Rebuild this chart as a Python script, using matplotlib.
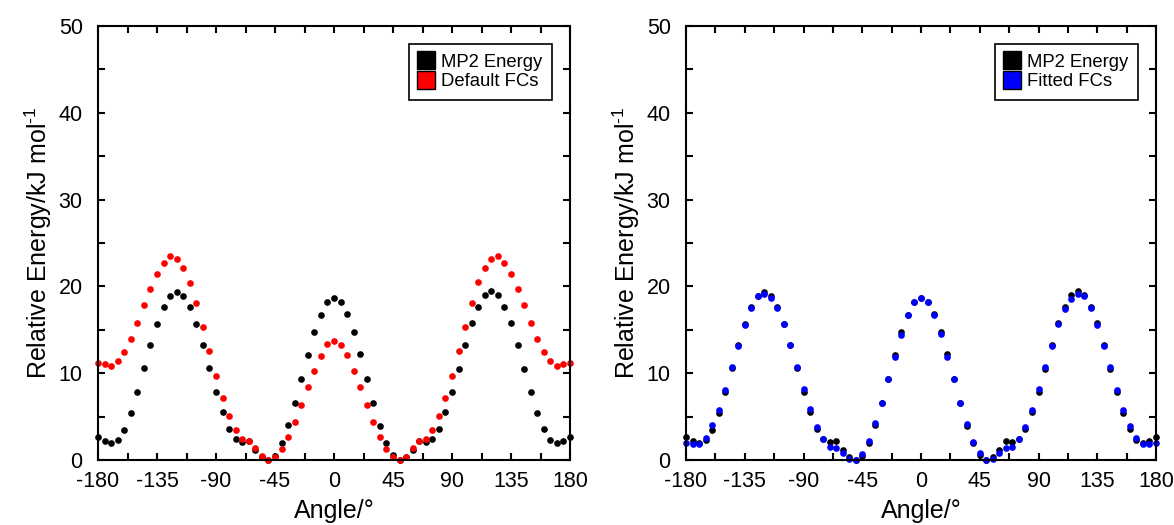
import matplotlib
matplotlib.use('Agg')
import matplotlib.pyplot as plt
from matplotlib.lines import Line2D
from matplotlib.ticker import MultipleLocator

plt.rcParams['font.family'] = ['Liberation Sans', 'DejaVu Sans']
plt.rcParams['mathtext.fontset'] = 'custom'
plt.rcParams['mathtext.rm'] = 'Liberation Sans'
plt.rcParams['mathtext.it'] = 'Liberation Sans:italic'
plt.rcParams['axes.unicode_minus'] = False

# dihedral scan, 5 degree steps
angle = list(range(-180, 185, 5))

mp2 = [2.69, 2.19, 1.92, 2.33, 3.50, 5.38, 7.86, 10.58, 13.25, 15.72, 17.67, 18.94, 19.40,
       18.94, 17.65, 15.72, 13.27, 10.56, 7.87, 5.48, 3.62, 2.42, 2.04, 2.19, 1.20, 0.30,
       0.00, 0.50, 1.95, 4.00, 6.56, 9.37, 12.10, 14.72, 16.72, 18.15, 18.72, 18.17, 16.78,
       14.73, 12.19, 9.38, 6.54, 3.96, 1.92, 0.58, 0.00, 0.30, 1.20, 2.19, 2.04, 2.42, 3.58,
       5.50, 7.85, 10.54, 13.27, 15.77, 17.65, 18.96, 19.42, 18.96, 17.65, 15.73, 13.27,
       10.54, 7.85, 5.40, 3.54, 2.31, 1.92, 2.19, 2.69]

default_fc = [11.15, 11.08, 10.88, 11.42, 12.50, 13.92, 15.77, 17.85, 19.65, 21.42, 22.69,
              23.46, 23.15, 22.08, 20.38, 18.12, 15.35, 12.54, 9.69, 7.19, 5.04, 3.42, 2.46,
              2.19, 1.38, 0.42, 0.00, 0.38, 1.23, 2.62, 4.42, 6.35, 8.38, 10.31, 12.00, 13.31,
              13.73, 13.27, 12.04, 10.31, 8.38, 6.35, 4.42, 2.62, 1.27, 0.38, 0.00, 0.38, 1.38,
              2.19, 2.46, 3.42, 5.08, 7.19, 9.69, 12.54, 15.35, 18.12, 20.46, 22.08, 23.15,
              23.46, 22.69, 21.42, 19.65, 17.85, 15.77, 13.92, 12.50, 11.42, 10.88, 11.08, 11.15]

fitted_fc = [1.92, 1.85, 1.85, 2.50, 4.00, 5.77, 8.08, 10.69, 13.15, 15.54, 17.46, 18.85,
             19.15, 18.65, 17.50, 15.69, 13.27, 10.77, 8.19, 5.85, 3.85, 2.42, 1.54, 1.35,
             0.85, 0.15, 0.00, 0.69, 2.23, 4.23, 6.62, 9.35, 11.92, 14.42, 16.73, 18.15, 18.69,
             18.15, 16.69, 14.50, 11.92, 9.35, 6.62, 4.15, 2.08, 0.77, 0.00, 0.15, 0.77, 1.35,
             1.54, 2.38, 3.85, 5.77, 8.15, 10.69, 13.19, 15.62, 17.42, 18.54, 19.08, 18.85,
             17.46, 15.54, 13.15, 10.69, 8.08, 5.77, 3.96, 2.50, 1.85, 1.85, 1.92]

fig = plt.figure(figsize=(11.74, 5.25), dpi=100)
ax1 = fig.add_axes([98 / 1174, 65 / 525, 472 / 1174, 434 / 525])
ax2 = fig.add_axes([686 / 1174, 65 / 525, 470 / 1174, 434 / 525])


def style(ax):
    ax.set_xlim(-180, 180)
    ax.set_ylim(0, 50)
    ax.set_xticks(range(-180, 181, 45))
    ax.xaxis.set_minor_locator(MultipleLocator(22.5))
    ax.yaxis.set_major_locator(MultipleLocator(10))
    ax.yaxis.set_minor_locator(MultipleLocator(5))
    ax.tick_params(which='both', direction='in', top=True, right=True,
                   length=5, width=1.5, labelsize=15.5)
    ax.tick_params(axis='y', pad=11)
    ax.tick_params(axis='x', pad=8)
    for s in ax.spines.values():
        s.set_linewidth(1.5)
    ax.set_xlabel('Angle/°', fontsize=18, labelpad=5)
    ax.set_ylabel(r'Relative Energy/kJ mol$^{\text{-1}}$', fontsize=18, labelpad=3)


def add_legend(ax, label, color):
    handles = [Line2D([], [], marker='s', ls='none', mfc='black', mec='black', ms=12.5),
               Line2D([], [], marker='s', ls='none', mfc=color, mec='black', ms=12.5)]
    leg = ax.legend(handles, ['MP2 Energy', label], loc='upper right', fontsize=13.3,
                    fancybox=False, framealpha=1, handlelength=0.9, handletextpad=0.35,
                    borderpad=0.5, labelspacing=0.15, borderaxespad=1.0)
    leg.get_frame().set_edgecolor('black')
    leg.get_frame().set_linewidth(1.2)


ax1.plot(angle, mp2, 'o', color='black', ms=4.8, mec='none', clip_on=False)
ax1.plot(angle, default_fc, 'o', color='#ff0000', ms=4.8, mec='none', clip_on=False)
style(ax1)
add_legend(ax1, 'Default FCs', '#ff0000')

ax2.plot(angle, mp2, 'o', color='black', ms=4.8, mec='none', clip_on=False)
ax2.plot(angle, fitted_fc, 'o', color='#0000ff', ms=4.8, mec='none', clip_on=False)
style(ax2)
add_legend(ax2, 'Fitted FCs', '#0000ff')

fig.savefig('out.png', dpi=100)
